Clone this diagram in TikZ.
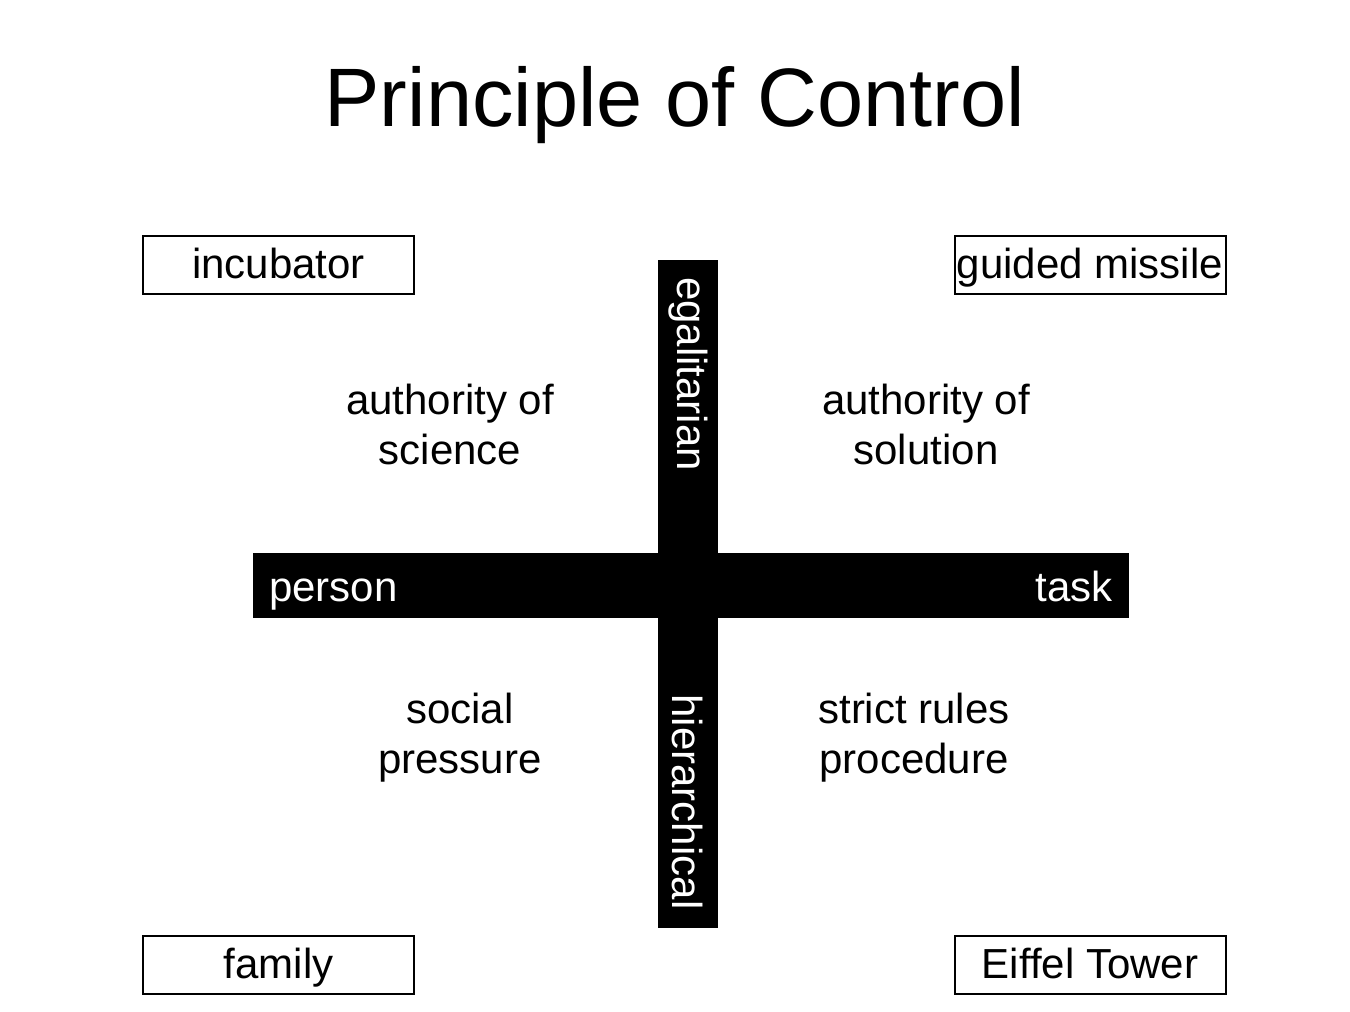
\documentclass[tikz,border=0pt]{standalone}
\usepackage{fontspec}
\setmainfont[Ligatures=NoCommon]{Liberation Sans}
\begin{document}
\begin{tikzpicture}[x=0.75pt,y=-0.75pt,
  lbl/.style={font=\fontsize{31.5pt}{37.5pt}\selectfont, inner sep=0pt, align=center},
  cbox/.style={draw=black, line width=1.5pt, minimum width=203.25pt, minimum height=43.5pt, inner sep=0pt, text height=26pt, text depth=6.5pt, font=\fontsize{31.5pt}{37.5pt}\selectfont},
  bar/.style={fill=black, draw=none},
  barlbl/.style={text=white, inner sep=0pt, font=\fontsize{31.5pt}{37.5pt}\selectfont}]
\useasboundingbox (0,0) rectangle (1350,1011);
\node[inner sep=0pt, font=\fontsize{62.2pt}{70pt}\selectfont, anchor=base] (title) at (675,126) {Principle of Control};
% boxes
\node[cbox] (inc) at (278.5,265) {incubator};
\node[cbox] (gm) at (1090,265) {guided missile};
\node[cbox] (fam) at (278.5,965) {family};
\node[cbox] (eif) at (1090,965) {Eiffel Tower};
% cross
\fill[bar] (658,260) rectangle (718,928);
\fill[bar] (253,553) rectangle (1129,618);
\node[barlbl, rotate=-90] (egal) at (688,374) {egalitarian};
\node[barlbl, rotate=-90] (hier) at (688,802) {hierarchical};
\node[barlbl, anchor=base west] (person) at (269,601) {person};
\node[barlbl, anchor=base east] (task) at (1113,601) {task};
% quadrant labels
\node[lbl, anchor=base] (sci) at (450,464) {authority of\\science};
\node[lbl, anchor=base] (sol) at (926,464) {authority of\\solution};
\node[lbl, anchor=base] (soc) at (460,773) {social\\pressure};
\node[lbl, anchor=base] (rul) at (914,773) {strict rules\\procedure};
\end{tikzpicture}
\end{document}
